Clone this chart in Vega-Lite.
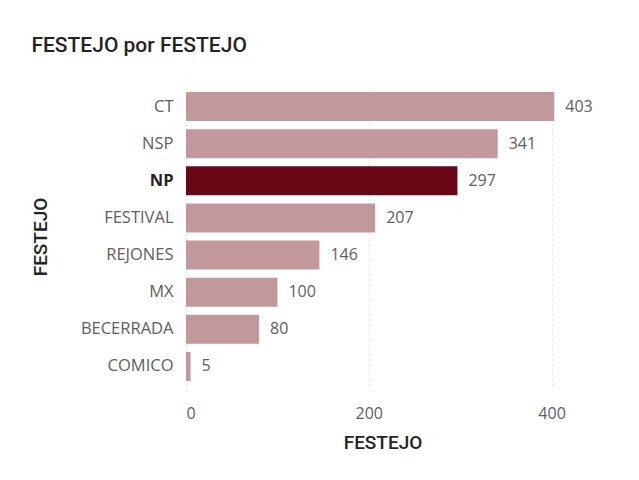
{
  "$schema": "https://vega.github.io/schema/vega-lite/v6.json",
  "width": 393,
  "height": 297,
  "autosize": {"type": "none"},
  "padding": {"left": 186, "top": 88, "right": 60, "bottom": 95},
  "background": "white",
  "title": {
    "text": "FESTEJO por FESTEJO",
    "anchor": "start",
    "frame": "bounds",
    "font": "Roboto",
    "fontSize": 21,
    "fontWeight": 500,
    "color": "#252423",
    "offset": 32
  },
  "data": {
    "values": [
      {"FESTEJO": "CT", "count": 403},
      {"FESTEJO": "NSP", "count": 341},
      {"FESTEJO": "NP", "count": 297},
      {"FESTEJO": "FESTIVAL", "count": 207},
      {"FESTEJO": "REJONES", "count": 146},
      {"FESTEJO": "MX", "count": 100},
      {"FESTEJO": "BECERRADA", "count": 80},
      {"FESTEJO": "COMICO", "count": 5}
    ]
  },
  "encoding": {
    "y": {
      "field": "FESTEJO",
      "type": "nominal",
      "sort": {"field": "count", "order": "descending"},
      "scale": {"paddingInner": 0.22, "paddingOuter": 0.11},
      "axis": {
        "title": "FESTEJO",
        "titleFont": "Roboto",
        "titleFontSize": 19,
        "titleFontWeight": 500,
        "titleColor": "#252423",
        "titlePadding": 30,
        "labelFont": "Open Sans",
        "labelFontSize": 16.5,
        "labelColor": {"condition": {"test": "datum.value == 'NP'", "value": "#252423"}, "value": "#605E5C"},
        "labelFontWeight": {"condition": {"test": "datum.value == 'NP'", "value": "bold"}, "value": "normal"},
        "labelPadding": 13,
        "ticks": false,
        "domain": false,
        "grid": false
      }
    },
    "x": {
      "field": "count",
      "type": "quantitative",
      "scale": {"domain": [0, 430], "nice": false},
      "axis": {
        "title": "FESTEJO",
        "titleFont": "Roboto",
        "titleFontSize": 19,
        "titleFontWeight": 500,
        "titleColor": "#252423",
        "titlePadding": 12,
        "values": [0, 200, 400],
        "labelFont": "Open Sans",
        "labelFontSize": 16,
        "labelColor": "#605E5C",
        "labelPadding": 20,
        "ticks": false,
        "domain": false,
        "grid": true,
        "gridColor": "#c8c8c8",
        "gridDash": [1, 4],
        "gridWidth": 1
      }
    }
  },
  "layer": [
    {
      "mark": {"type": "bar"},
      "encoding": {
        "color": {
          "condition": {"test": "datum.FESTEJO == 'NP'", "value": "#680816"},
          "value": "#c1989c"
        }
      }
    },
    {
      "mark": {"type": "text", "align": "left", "dx": 11, "font": "Open Sans", "fontSize": 16, "color": "#605E5C"},
      "encoding": {"text": {"field": "count", "type": "quantitative"}}
    }
  ],
  "config": {"view": {"stroke": null}}
}
